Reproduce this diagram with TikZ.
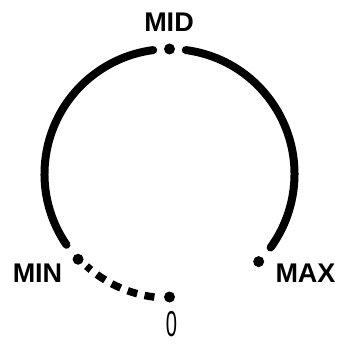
\documentclass[tikz,border=0pt]{standalone}
\usepackage{fontspec}
\setmainfont{Liberation Sans}
\tikzset{
  dot/.style={circle,fill=black,inner sep=0pt,minimum size=11pt},
  tag/.style={inner sep=0pt,anchor=base,font=\fontsize{27}{27}\selectfont\bfseries},
  arcline/.style={line width=8pt,line cap=round},
  dashline/.style={line width=7.5pt,dash pattern=on 10pt off 7.5pt}
}
\begin{document}
\begin{tikzpicture}
      \useasboundingbox (-169.5pt,-171pt) rectangle (168.5pt,174pt);
      \draw
        (90:125pt) node[dot] (mid){}
        (223:125pt) node[dot] (min){}
        (-44.5:125pt) node[dot] (max){}
        (270:123pt) node[dot] (zero){};
      \node[tag] (midlabel) at (-0.5pt,142pt) {MID};
      \node[tag] (minlabel) at (-132pt,-108pt) {MIN};
      \node[tag] (maxlabel) at (136pt,-108pt) {MAX};
      \node[inner sep=0pt,anchor=base,xscale=0.56,font=\fontsize{36}{36}\selectfont] (zerolabel) at (2pt,-162pt) {0};
      \begin{scope}[arcline]
        \draw (214.5:125pt) arc[start angle=214.5,end angle=97.5,radius=125pt];
        \draw (82.5:125pt) arc[start angle=82.5,end angle=-36,radius=125pt];
      \end{scope}
      \begin{scope}[dashline]
        \draw (263:124pt) arc[start angle=263,end angle=228,radius=124pt];
      \end{scope}
    \end{tikzpicture}
\end{document}
